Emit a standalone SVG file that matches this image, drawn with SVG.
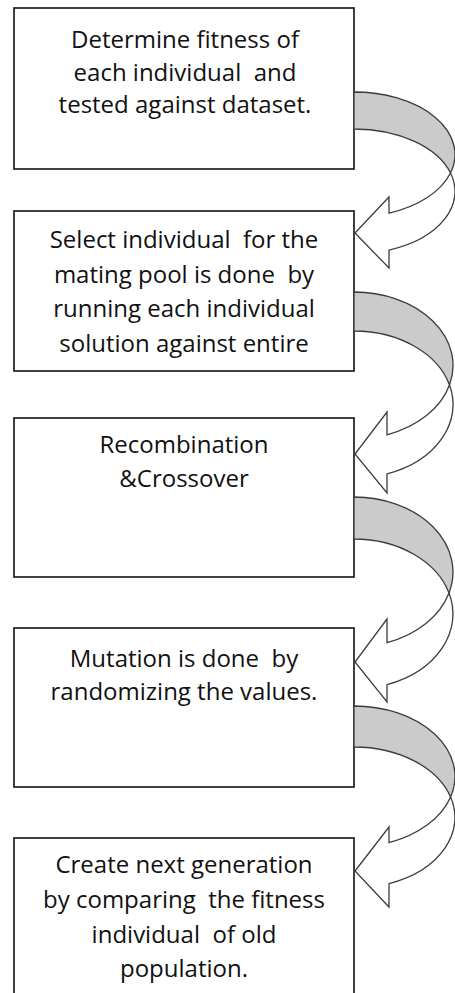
<svg xmlns="http://www.w3.org/2000/svg" width="455" height="993" viewBox="0 0 455 993">
<style>
.box{fill:#ffffff;stroke:#1f1f1f;stroke-width:1.7}
.lbl{font-family:"Open Sans","Noto Sans","DejaVu Sans",sans-serif;font-size:24px;fill:#111111;text-anchor:middle;white-space:pre}
.band{fill:#cbcbcb;stroke:#3c3c3c;stroke-width:1.3;stroke-linejoin:round}
.head{fill:#ffffff;stroke:#3c3c3c;stroke-width:1.3;stroke-linejoin:miter}
</style>
<rect x="0" y="0" width="455" height="993" fill="#ffffff"/>
<g id="node1">
<rect class="box" x="14" y="8" width="340" height="161"/>
<text class="lbl" x="185" y="48">Determine fitness of</text>
<text class="lbl" x="185" y="80.5">each individual  and</text>
<text class="lbl" x="185" y="113">tested against dataset.</text>
</g>
<g id="node2">
<rect class="box" x="14" y="211" width="340" height="160"/>
<text class="lbl" x="184" y="248">Select individual  for the</text>
<text class="lbl" x="184" y="283">mating pool is done  by</text>
<text class="lbl" x="184" y="317">running each individual</text>
<text class="lbl" x="184" y="352">solution against entire</text>
</g>
<g id="node3">
<rect class="box" x="14" y="418" width="340" height="159"/>
<text class="lbl" x="184" y="453">Recombination</text>
<text class="lbl" x="184" y="487">&amp;Crossover</text>
</g>
<g id="node4">
<rect class="box" x="14" y="628" width="340" height="159"/>
<text class="lbl" x="184" y="667">Mutation is done  by</text>
<text class="lbl" x="184" y="700">randomizing the values.</text>
</g>
<g id="node5">
<rect class="box" x="14" y="838" width="340" height="175"/>
<text class="lbl" x="184" y="873">Create next generation</text>
<text class="lbl" x="184" y="908">by comparing  the fitness</text>
<text class="lbl" x="184" y="943">individual  of old</text>
<text class="lbl" x="184" y="977">population.</text>
</g>
<g id="connectors">
<g id="arrow1">
<path class="band" d="M354,92 A101,62.5 0 0 1 450.5,173 A101,62.5 0 0 0 354,129 Z"/>
<path class="head" d="M450.5,173 A101,62.5 0 0 1 389,250.1 L389,268 L355,233 L389,197 L389,213.1 A101,62.5 0 0 0 450.5,173 Z"/>
</g>
<g id="arrow2">
<path class="band" d="M354,292 A99,73.5 0 0 1 449.5,385 A99,73.5 0 0 0 354,331 Z"/>
<path class="head" d="M449.5,385 A99,73.5 0 0 1 387,473.8 L387,493 L355,454 L387,412 L387,434.8 A99,73.5 0 0 0 449.5,385 Z"/>
</g>
<g id="arrow3">
<path class="band" d="M354,497 A99,75 0 0 1 449,593 A99,75 0 0 0 354,539 Z"/>
<path class="head" d="M449,593 A99,75 0 0 1 387,684.7 L387,702 L355,662 L387,619 L387,642.7 A99,75 0 0 0 449,593 Z"/>
</g>
<g id="arrow4">
<path class="band" d="M354,706 A101,70.5 0 0 1 450.6,797 A101,70.5 0 0 0 354,747 Z"/>
<path class="head" d="M450.6,797 A101,70.5 0 0 1 389,883.6 L389,907 L355,871 L389,827 L389,842.6 A101,70.5 0 0 0 450.6,797 Z"/>
</g>
</g>
</svg>
